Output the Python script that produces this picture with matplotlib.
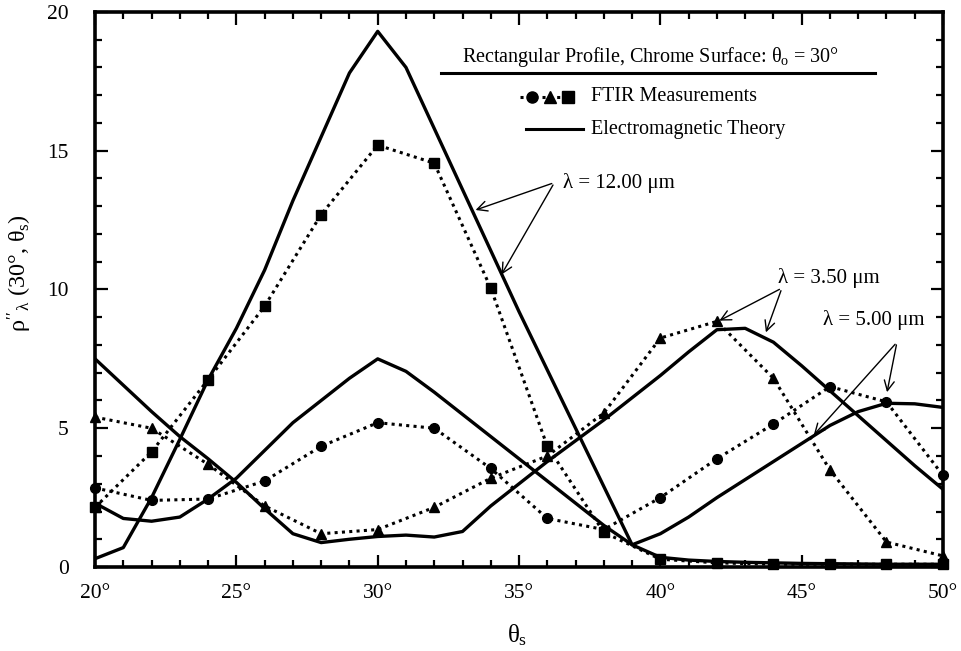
import numpy as np
import matplotlib
matplotlib.use("Agg")
import matplotlib.pyplot as plt
from matplotlib.ticker import MultipleLocator

plt.rcParams['font.family'] = ['Liberation Serif', 'DejaVu Serif']
plt.rcParams['mathtext.fontset'] = 'custom'
plt.rcParams['mathtext.rm'] = 'Liberation Serif'
plt.rcParams['mathtext.it'] = 'Liberation Serif'

# measurement angles (every 2 deg) and theory angles (every 1 deg)
theta_meas = np.arange(20, 51, 2)
theta_theory = np.arange(20, 51, 1)

# FTIR measurements
meas_350 = [5.4, 5.0, 3.7, 2.2, 1.2, 1.35, 2.15, 3.2, 4.0, 5.55, 8.25, 8.85, 6.8, 3.5, 0.9, 0.4]   # triangles
meas_500 = [2.85, 2.4, 2.45, 3.1, 4.35, 5.2, 5.0, 3.55, 1.75, 1.35, 2.5, 3.9, 5.15, 6.5, 5.95, 3.3]  # circles
meas_1200 = [2.15, 4.15, 6.75, 9.4, 12.7, 15.2, 14.55, 10.05, 4.35, 1.25, 0.28, 0.15, 0.1, 0.1, 0.1, 0.1]  # squares

# electromagnetic theory
theory_350 = [7.5, 6.55, 5.6, 4.7, 3.9, 3.05, 2.1, 1.2, 0.88, 1.0, 1.1, 1.15, 1.08, 1.28, 2.2,
              3.0, 3.8, 4.55, 5.3, 6.1, 6.9, 7.75, 8.55, 8.6, 8.1, 7.25, 6.35, 5.45, 4.55, 3.65, 2.8]
theory_500 = [2.3, 1.75, 1.65, 1.8, 2.45, 3.2, 4.2, 5.2, 6.0, 6.8, 7.5, 7.05, 6.3, 5.5, 4.7,
              3.9, 3.1, 2.3, 1.5, 0.8, 1.2, 1.8, 2.5, 3.15, 3.8, 4.45, 5.1, 5.6, 5.9, 5.88, 5.75]
theory_1200 = [0.3, 0.7, 2.5, 4.6, 6.75, 8.6, 10.7, 13.2, 15.5, 17.8, 19.3, 18.0, 15.8, 13.6, 11.4,
               9.2, 7.1, 5.0, 2.9, 0.8, 0.35, 0.25, 0.2, 0.17, 0.15, 0.13, 0.12, 0.11, 0.1, 0.1, 0.1]

xtick_vals = [20, 25, 30, 35, 40, 45, 50]
xtick_labels = ['20°', '25°', '30°', '35°', '40°', '45°', '50°']
ytick_vals = [0, 5, 10, 15, 20]

# wavelength labels: (text, text pos, arrow tail, arrow heads)
callouts = [
    ('λ = 12.00 μm', (36.55, 13.84), (36.25, 13.85), [(33.37, 12.83), (34.33, 10.45)]),
    ('λ = 3.50 μm', (44.16, 10.41), (44.3, 10.05), [(42.0, 8.83), (43.7, 8.36)]),
    ('λ = 5.00 μm', (45.75, 8.9), (48.37, 8.1), [(45.36, 4.68), (48.0, 6.2)]),
]

fig = plt.figure(figsize=(9.61, 6.51), dpi=100)
ax = fig.add_axes([0.0989, 0.129, 0.8824, 0.8527])

dot = (0, (1, 1.4))
lw_theory = 2.4
ax.plot(theta_theory, theory_1200, color='black', lw=lw_theory)
ax.plot(theta_theory, theory_350, color='black', lw=lw_theory)
ax.plot(theta_theory, theory_500, color='black', lw=lw_theory)

ax.plot(theta_meas, meas_1200, color='black', ls=dot, lw=2.2, marker='s', ms=6.5, clip_on=False)
ax.plot(theta_meas, meas_350, color='black', ls=dot, lw=2.2, marker='^', ms=7, clip_on=False)
ax.plot(theta_meas, meas_500, color='black', ls=dot, lw=2.2, marker='o', ms=7, clip_on=False)

ax.set_xlim(20, 50)
ax.set_ylim(0, 20)
ax.set_xticks(xtick_vals)
ax.set_xticklabels(xtick_labels)
ax.set_yticks(ytick_vals)
ax.xaxis.set_minor_locator(MultipleLocator(1))
ax.yaxis.set_minor_locator(MultipleLocator(1))
ax.tick_params(which='both', direction='in', top=True, right=True, width=1.6, labelsize=15.5)
ax.tick_params(which='major', length=9)
ax.tick_params(which='minor', length=5)
ax.tick_params(axis='x', pad=12)
ax.tick_params(axis='y', pad=19)
for sp in ax.spines.values():
    sp.set_linewidth(2.6)

fig.text(517 / 961, 1 - 635 / 651, r'$\theta_s$', fontsize=18, ha='center', va='center')
fig.text(20 / 961, 1 - 273 / 651, r"$\rho''_\lambda$ (30°, $\theta_s$)", fontsize=17.5,
         rotation=90, ha='center', va='center')

# legend block drawn by hand
tr = ax.transAxes
ax.text(0.4328, 0.919, r'Rectangular Profile, Chrome Surface: $\theta_o$ = 30°',
        transform=tr, fontsize=14.5, va='center', ha='left')
ax.plot([0.408, 0.920], [0.890, 0.890], transform=tr, color='black', lw=2.2)
ax.plot([0.501, 0.570], [0.847, 0.847], transform=tr, color='black', ls=dot, lw=2.2)
for mx, mk in zip([0.515, 0.537, 0.558], ['o', '^', 's']):
    ax.plot([mx], [0.847], transform=tr, color='black', marker=mk, ms=8)
ax.text(0.585, 0.847, 'FTIR Measurements', transform=tr, fontsize=14.5, va='center')
ax.plot([0.508, 0.575], [0.789, 0.789], transform=tr, color='black', lw=2.2)
ax.text(0.585, 0.789, 'Electromagnetic Theory', transform=tr, fontsize=14.5, va='center')

for label, tpos, tail, heads in callouts:
    ax.text(tpos[0], tpos[1], label, fontsize=15, va='center', ha='left')
    for hd in heads:
        ax.annotate('', xy=hd, xytext=tail,
                    arrowprops=dict(arrowstyle='->', color='black', lw=1.0, mutation_scale=18))

fig.savefig('out.png', dpi=100)
